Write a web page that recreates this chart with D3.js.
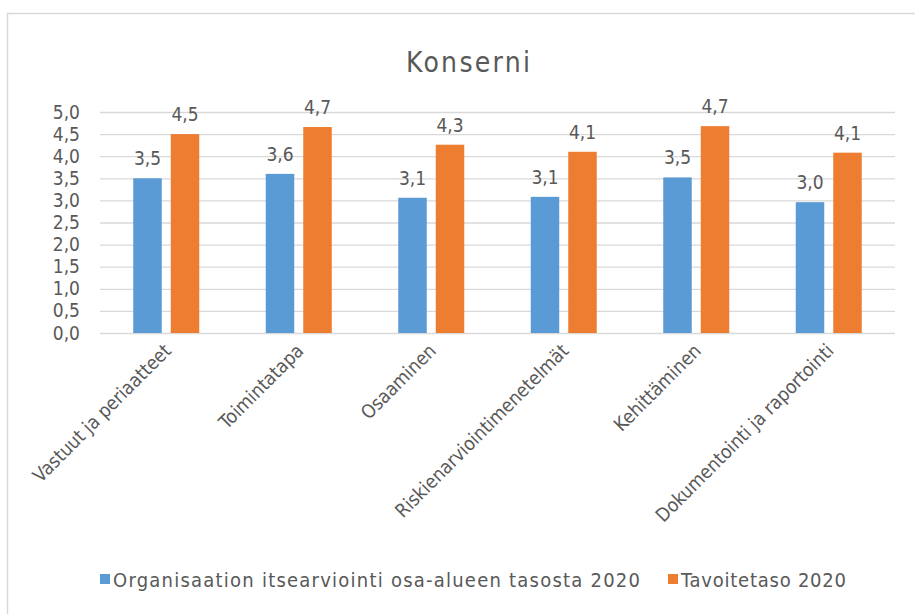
<!DOCTYPE html>
<html>
<head>
<meta charset="utf-8">
<script src="https://cdn.jsdelivr.net/npm/d3@7"></script>
<style>
  body { margin: 0; background: #fff; }
  text { font-family: "DejaVu Sans Condensed", "Liberation Sans Narrow", "Open Sans", sans-serif; fill: #595959; }
</style>
</head>
<body>
<div id="chart"></div>
<script>
// chart data
var categories = ["Vastuut ja periaatteet", "Toimintatapa", "Osaaminen",
                  "Riskienarviointimenetelmät", "Kehittäminen", "Dokumentointi ja raportointi"];
var seriesNames = ["Organisaation itsearviointi osa-alueen tasosta 2020", "Tavoitetaso 2020"];
var selfAssessment = [3.5, 3.6, 3.06, 3.08, 3.52, 2.96];
var targetLevel = [4.5, 4.66, 4.26, 4.1, 4.68, 4.08];
var yTicks = [0, 0.5, 1, 1.5, 2, 2.5, 3, 3.5, 4, 4.5, 5];
var colors = ["#5B9BD5", "#ED7D31"];

var W = 915, H = 614;
var margin = {top: 112, left: 100},
    width = 895 - margin.left,
    height = 333 - margin.top;

var svg = d3.select("#chart").append("svg")
    .attr("width", W).attr("height", H);

// outer chart frame
svg.append("path")
  .attr("d", "M7.5," + (H + 5) + "V13.5H" + (W + 5))
  .attr("fill", "none")
  .attr("stroke", "#d9d9d9")
  .attr("stroke-width", 1.5);

// title
svg.append("text")
  .attr("x", 468).attr("y", 72)
  .attr("text-anchor", "middle")
  .attr("textLength", 124)
  .style("font-size", "28px")
  .text("Konserni");

var g = svg.append("g")
  .attr("transform", "translate(" + margin.left + "," + margin.top + ")");

var x = d3.scaleBand().domain(categories).range([0, width]);
var x1 = d3.scaleBand().domain([0, 1]).range([x.bandwidth() / 2 - 33, x.bandwidth() / 2 + 33]).paddingInner(0.24);
var y = d3.scaleLinear().domain([0, 5]).range([height, 0]);

// gridlines
g.append("g")
  .call(d3.axisLeft(y).tickValues(yTicks).tickSize(-width).tickFormat(""))
  .call(function(a) {
    a.select(".domain").remove();
    a.selectAll("line").attr("stroke", "#d9d9d9").attr("stroke-width", 1.3);
  });

// y tick labels
g.append("g")
  .call(d3.axisLeft(y).tickValues(yTicks).tickSize(0).tickPadding(20)
    .tickFormat(function(d) { return d.toFixed(1).replace(".", ","); }))
  .call(function(a) {
    a.select(".domain").remove();
    a.selectAll("text").style("font-size", "19px").attr("fill", "#595959");
  });

var rows = categories.map(function(c, i) {
  return {cat: c, vals: [selfAssessment[i], targetLevel[i]]};
});

var groups = g.selectAll(".grp")
  .data(rows)
  .enter().append("g")
    .attr("class", "grp")
    .attr("transform", function(d) { return "translate(" + x(d.cat) + ",0)"; });

groups.selectAll("rect")
  .data(function(d) { return d.vals.map(function(v, k) { return {k: k, v: v}; }); })
  .enter().append("rect")
    .attr("x", function(d) { return x1(d.k); })
    .attr("width", x1.bandwidth())
    .attr("y", function(d) { return y(d.v); })
    .attr("height", function(d) { return height - y(d.v); })
    .attr("fill", function(d) { return colors[d.k]; });

// data labels
groups.selectAll(".lbl")
  .data(function(d) { return d.vals.map(function(v, k) { return {k: k, v: v}; }); })
  .enter().append("text")
    .attr("class", "lbl")
    .attr("x", function(d) { return x1(d.k) + x1.bandwidth() / 2; })
    .attr("y", function(d) { return y(d.v) - 13; })
    .attr("text-anchor", "middle")
    .style("font-size", "19px")
    .text(function(d) { return d.v.toFixed(1).replace(".", ","); });

// x axis labels, rotated
g.append("g")
  .attr("transform", "translate(0," + height + ")")
  .call(d3.axisBottom(x).tickSize(0).tickPadding(0))
  .call(function(a) {
    a.select(".domain").remove();
    a.selectAll("text")
      .style("font-size", "19px")
      .attr("fill", "#595959")
      .attr("text-anchor", "end")
      .attr("dy", null)
      .attr("transform", "translate(6,19) rotate(-45)");
  });

// legend
var legendX = [100, 668];
var legendLen = [527, 165];
var legend = svg.selectAll(".leg")
  .data(seriesNames)
  .enter().append("g")
    .attr("class", "leg")
    .attr("transform", function(d, i) { return "translate(" + legendX[i] + ",580)"; });
legend.append("rect")
  .attr("x", 0).attr("y", -6).attr("width", 10).attr("height", 10)
  .attr("fill", function(d, i) { return colors[i]; });
legend.append("text")
  .attr("x", 13).attr("y", 7)
  .attr("textLength", function(d, i) { return legendLen[i]; })
  .style("font-size", "20px")
  .text(function(d) { return d; });
</script>
</body>
</html>
